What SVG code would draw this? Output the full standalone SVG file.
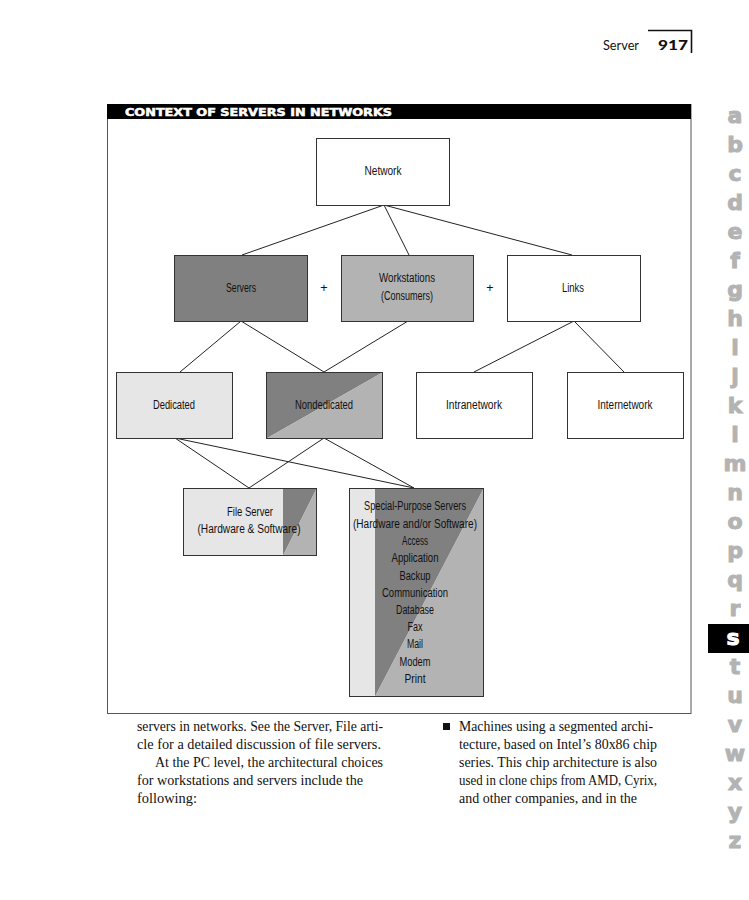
<svg xmlns="http://www.w3.org/2000/svg" width="749" height="900" viewBox="0 0 749 900">
<style>
.box{stroke:#333;stroke-width:1}
.lbl{font-family:"Liberation Sans",Arial,sans-serif;font-size:12.5px;fill:#111;text-anchor:middle}
.con{stroke:#222;stroke-width:1;fill:none}
.dark{fill:#808080}
.mid{fill:#b3b3b3}
.light{fill:#e6e6e6}
.body{font-family:"Liberation Serif","Times New Roman",serif;font-size:14.5px;fill:#111}
.tab{font-family:"DejaVu Sans",sans-serif;font-weight:bold;font-size:22px;fill:#b3b3b3;stroke:#b3b3b3;stroke-width:1;text-anchor:middle}
</style>
<rect width="749" height="900" fill="#fff"/>
<g id="header">
<text x="603" y="50" font-family="Lato,'Liberation Sans',sans-serif" font-size="13" fill="#111" textLength="36" lengthAdjust="spacingAndGlyphs">Server</text>
<text x="658" y="50" font-family="Lato,'Liberation Sans',sans-serif" font-weight="900" font-size="14" fill="#111" textLength="30" lengthAdjust="spacingAndGlyphs">917</text>
<path d="M648 30.5H691.5V53" fill="none" stroke="#111" stroke-width="1.6"/>
</g>
<g id="frame">
<rect x="107.5" y="104.5" width="583.5" height="609" fill="none" stroke="#555" stroke-width="1"/>
<rect x="107" y="104" width="584" height="15" fill="#000"/>
<text x="125" y="116" font-family="'DejaVu Sans',sans-serif" font-weight="bold" font-size="10" fill="#fff" stroke="#fff" stroke-width="0.5" textLength="267" lengthAdjust="spacingAndGlyphs">CONTEXT OF SERVERS IN NETWORKS</text>
</g>
<g id="connectors" class="con">
<line x1="384" y1="205" x2="242" y2="255"/>
<line x1="384" y1="205" x2="409" y2="255"/>
<line x1="384" y1="205" x2="572" y2="255"/>
<line x1="241" y1="321" x2="180" y2="372"/>
<line x1="241" y1="321" x2="324" y2="372"/>
<line x1="408" y1="321" x2="324" y2="372"/>
<line x1="574" y1="321" x2="474" y2="372"/>
<line x1="574" y1="321" x2="624" y2="372"/>
<line x1="175" y1="438" x2="249" y2="488"/>
<line x1="175" y1="438" x2="414" y2="488"/>
<line x1="324" y1="438" x2="249" y2="488"/>
<line x1="324" y1="438" x2="414" y2="488"/>
</g>
<g id="network">
<rect class="box" x="316.5" y="138.5" width="133" height="67" fill="#fff"/>
<text class="lbl" x="383" y="175" textLength="37" lengthAdjust="spacingAndGlyphs">Network</text>
</g>
<g id="servers">
<rect class="box dark" x="174.5" y="255.5" width="133" height="66"/>
<text class="lbl" x="241" y="292" textLength="30" lengthAdjust="spacingAndGlyphs">Servers</text>
</g>
<g id="plus1"><text class="lbl" x="324" y="292" font-size="14">+</text></g>
<g id="workstations">
<rect class="box mid" x="341.5" y="255.5" width="132" height="66"/>
<text class="lbl" x="407" y="282" textLength="56" lengthAdjust="spacingAndGlyphs">Workstations</text>
<text class="lbl" x="407" y="300" textLength="52" lengthAdjust="spacingAndGlyphs">(Consumers)</text>
</g>
<g id="plus2"><text class="lbl" x="490" y="292" font-size="14">+</text></g>
<g id="links">
<rect class="box" x="507.5" y="255.5" width="133" height="66" fill="#fff"/>
<text class="lbl" x="573" y="292" textLength="22" lengthAdjust="spacingAndGlyphs">Links</text>
</g>
<g id="dedicated">
<rect class="box light" x="116.5" y="372.5" width="116" height="66"/>
<text class="lbl" x="174" y="409" textLength="42" lengthAdjust="spacingAndGlyphs">Dedicated</text>
</g>
<g id="nondedicated">
<polygon class="dark" points="266.5,372.5 382.5,372.5 266.5,438.5"/>
<polygon class="mid" points="382.5,372.5 382.5,438.5 266.5,438.5"/>
<rect class="box" x="266.5" y="372.5" width="116" height="66" fill="none"/>
<text class="lbl" x="324" y="409" textLength="58" lengthAdjust="spacingAndGlyphs">Nondedicated</text>
</g>
<g id="intranetwork">
<rect class="box" x="416.5" y="372.5" width="116" height="66" fill="#fff"/>
<text class="lbl" x="474" y="409" textLength="56" lengthAdjust="spacingAndGlyphs">Intranetwork</text>
</g>
<g id="internetwork">
<rect class="box" x="567.5" y="372.5" width="116" height="66" fill="#fff"/>
<text class="lbl" x="625" y="409" textLength="55" lengthAdjust="spacingAndGlyphs">Internetwork</text>
</g>
<g id="fileserver">
<rect class="light" x="183.5" y="488.5" width="133" height="67"/>
<polygon class="dark" points="283,488.5 316.5,488.5 283,555.5"/>
<polygon class="mid" points="316.5,488.5 316.5,555.5 283,555.5"/>
<rect class="box" x="183.5" y="488.5" width="133" height="67" fill="none"/>
<text class="lbl" x="250" y="516" textLength="46" lengthAdjust="spacingAndGlyphs">File Server</text>
<text class="lbl" x="249" y="533" textLength="103" lengthAdjust="spacingAndGlyphs">(Hardware &amp; Software)</text>
</g>
<g id="specialpurpose">
<rect class="light" x="349.5" y="488.5" width="134" height="208"/>
<polygon class="dark" points="375,488.5 483.5,488.5 375,696.5"/>
<polygon class="mid" points="483.5,488.5 483.5,696.5 375,696.5"/>
<rect class="box" x="349.5" y="488.5" width="134" height="208" fill="none"/>
<text class="lbl" x="415" y="510" textLength="102" lengthAdjust="spacingAndGlyphs">Special-Purpose Servers</text>
<text class="lbl" x="415" y="528" textLength="124" lengthAdjust="spacingAndGlyphs">(Hardware and/or Software)</text>
<text class="lbl" x="415" y="545" textLength="26" lengthAdjust="spacingAndGlyphs">Access</text>
<text class="lbl" x="415" y="562" textLength="47" lengthAdjust="spacingAndGlyphs">Application</text>
<text class="lbl" x="415" y="580" textLength="31" lengthAdjust="spacingAndGlyphs">Backup</text>
<text class="lbl" x="415" y="597" textLength="66" lengthAdjust="spacingAndGlyphs">Communication</text>
<text class="lbl" x="415" y="614" textLength="38" lengthAdjust="spacingAndGlyphs">Database</text>
<text class="lbl" x="415" y="631" textLength="15" lengthAdjust="spacingAndGlyphs">Fax</text>
<text class="lbl" x="415" y="648" textLength="16" lengthAdjust="spacingAndGlyphs">Mail</text>
<text class="lbl" x="415" y="666" textLength="31" lengthAdjust="spacingAndGlyphs">Modem</text>
<text class="lbl" x="415" y="683" textLength="21" lengthAdjust="spacingAndGlyphs">Print</text>
</g>
<g id="bodytext" class="body">
<text x="137" y="731" textLength="246" lengthAdjust="spacingAndGlyphs">servers in networks. See the Server, File arti-</text>
<text x="137" y="749" textLength="244" lengthAdjust="spacingAndGlyphs">cle for a detailed discussion of file servers.</text>
<text x="155" y="767" textLength="228" lengthAdjust="spacingAndGlyphs">At the PC level, the architectural choices</text>
<text x="137" y="785" textLength="226" lengthAdjust="spacingAndGlyphs">for workstations and servers include the</text>
<text x="137" y="803" textLength="60" lengthAdjust="spacingAndGlyphs">following:</text>
<rect x="443" y="723" width="7" height="7" fill="#111"/>
<text x="459" y="731" textLength="194" lengthAdjust="spacingAndGlyphs">Machines using a segmented archi-</text>
<text x="459" y="749" textLength="198" lengthAdjust="spacingAndGlyphs">tecture, based on Intel’s 80x86 chip</text>
<text x="459" y="767" textLength="198" lengthAdjust="spacingAndGlyphs">series. This chip architecture is also</text>
<text x="459" y="785" textLength="198" lengthAdjust="spacingAndGlyphs">used in clone chips from AMD, Cyrix,</text>
<text x="459" y="803" textLength="178" lengthAdjust="spacingAndGlyphs">and other companies, and in the</text>
</g>
<g id="thumbtabs">
<text class="tab" x="735" y="123">a</text>
<text class="tab" x="735" y="152">b</text>
<text class="tab" x="735" y="181">c</text>
<text class="tab" x="735" y="210">d</text>
<text class="tab" x="735" y="239">e</text>
<text class="tab" x="735" y="268">f</text>
<text class="tab" x="735" y="297">g</text>
<text class="tab" x="735" y="326">h</text>
<text class="tab" x="735" y="355">i</text>
<text class="tab" x="735" y="384">j</text>
<text class="tab" x="735" y="413">k</text>
<text class="tab" x="735" y="442">l</text>
<text class="tab" x="735" y="471">m</text>
<text class="tab" x="735" y="500">n</text>
<text class="tab" x="735" y="529">o</text>
<text class="tab" x="735" y="558">p</text>
<text class="tab" x="735" y="587">q</text>
<text class="tab" x="735" y="616">r</text>
<rect x="708" y="624" width="41" height="29" fill="#000"/>
<text class="tab" x="733" y="645" style="fill:#fff;stroke:#fff">s</text>
<text class="tab" x="735" y="674">t</text>
<text class="tab" x="735" y="703">u</text>
<text class="tab" x="735" y="732">v</text>
<text class="tab" x="735" y="761">w</text>
<text class="tab" x="735" y="790">x</text>
<text class="tab" x="735" y="819">y</text>
<text class="tab" x="735" y="848">z</text>
</g>
</svg>
